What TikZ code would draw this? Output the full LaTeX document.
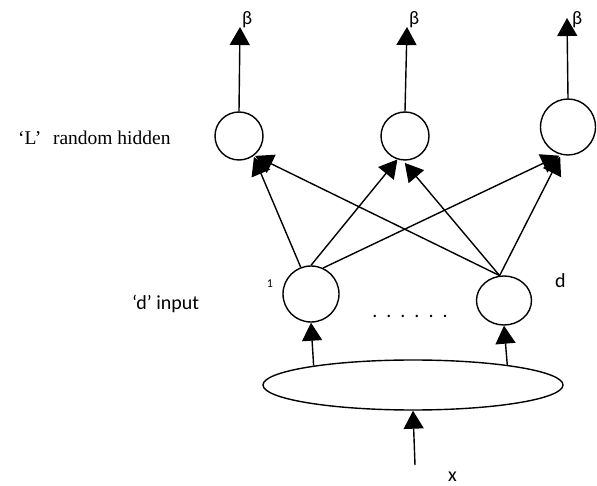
\documentclass[tikz,border=0pt]{standalone}
\usepackage{fontspec}
\setmainfont{Liberation Serif}
\newfontfamily\calib{Carlito}
\usetikzlibrary{arrows.meta,shapes.geometric,calc}
\begin{document}
\begin{tikzpicture}[x=1pt,y=-1pt,
  neuron/.style={draw,circle,line width=1.4pt,inner sep=0pt,minimum size=48pt},
  oval/.style={draw,ellipse,line width=1.4pt,inner sep=0pt},
  arr/.style={line width=1.4pt,-{Triangle[length=18pt,width=20pt]}},
  lbl/.style={inner sep=0pt,font=\calib\fontsize{20}{24}\selectfont},
  btxt/.style={inner sep=0pt,font=\calib\fontsize{19}{22}\selectfont}]
\useasboundingbox (0,0) rectangle (597,486);
% hidden layer
\node[neuron] (H1) at (239,136) {};
\node[neuron] (H2) at (405,136) {};
\node[oval,minimum width=55pt,minimum height=56pt] (H3) at (568,127) {};
% input layer
\node[neuron,minimum size=56pt] (I1) at (311,294) {};
\node[oval,minimum width=55pt,minimum height=49pt] (I2) at (504,300.5) {};
% big input ellipse
\node[oval,minimum width=300pt,minimum height=50pt] (E) at (413,385) {};
% output tips
\coordinate (o1) at (240,27);
\coordinate (o2) at (407,27);
\coordinate (o3) at (567,18);
\coordinate (xin) at (415,465);
% beta labels
\node[btxt,anchor=base west] (b1) at (242,25) {β};
\node[btxt,anchor=base west] (b2) at (409,25) {β};
\node[btxt,anchor=base west] (b3) at (572,25) {β};
% texts
\node[anchor=base west,inner sep=0pt,font=\fontsize{19.5}{23}\selectfont] (tL) at (18,145) {‘L’\hspace{0.6em}random hidden};
\node[lbl,anchor=base west] (td) at (132,309) {‘d’ input};
\node[inner sep=0pt,anchor=base,font=\calib\fontsize{12}{14}\selectfont] (one) at (270,288) {1};
\node[lbl,anchor=base west] (dd) at (555,288) {d};
\node[lbl,anchor=base west] (xx) at (448,481) {x};
\node[lbl,anchor=base] (dots) at (410,318) {.\hspace{9pt}.\hspace{9pt}.\hspace{9pt}.\hspace{9pt}.\hspace{9pt}.};
% outputs
\draw[arr] (H1.north) -- (o1);
\draw[arr] (H2.north) -- (o2);
\draw[arr] (H3.north) -- (o3);
% input to hidden
\draw[arr,shorten >=1pt] (I1.111) -- (H1.-54);
\draw[arr] (I1.90) -- (H2.-108);
\draw[arr,shorten >=2pt] (I1.65) -- (H3.-104);
\draw[arr,shorten >=1pt] (I2.100) -- (H1.-52);
\draw[arr,shorten >=3pt] (I2.100) -- (H2.-95);
\draw[arr,shorten >=2pt] (I2.100) -- (H3.-104);
% ellipse to inputs
\draw[arr] (E.169) -- (I1.south);
\draw[arr] (E.12.5) -- (I2.south);
\draw[arr] (xin) -- (E.south);
\end{tikzpicture}
\end{document}
